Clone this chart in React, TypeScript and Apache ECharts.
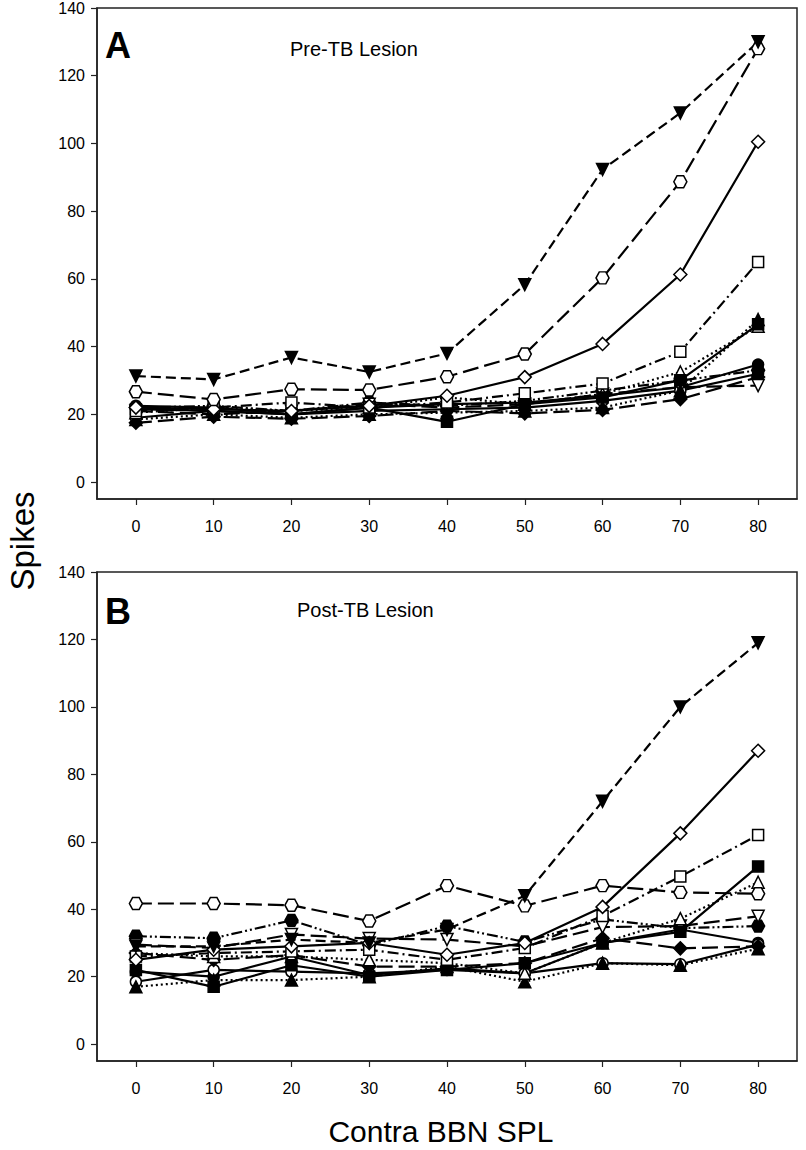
import React, { useEffect, useRef } from "react";
import * as echarts from "echarts";

// ---------- data ----------
const xLevels = [0, 10, 20, 30, 40, 50, 60, 70, 80];
const xTickValues = [0, 10, 20, 30, 40, 50, 60, 70, 80];
const yTickValues = [0, 20, 40, 60, 80, 100, 120, 140];

// Panel A: Pre-TB Lesion
const preFilledDownTri = [31.3, 30.3, 36.8, 32.5, 38, 58.3, 92.3, 109, 130];
const preOpenHex = [26.7, 24.4, 27.4, 27.2, 31.1, 37.8, 60.3, 88.7, 128];
const preOpenDiamond = [22, 21.5, 21, 22.5, 25.5, 31, 40.8, 61.3, 100.5];
const preOpenSquare = [21, 22, 23.5, 22, 23.5, 26.2, 29.1, 38.5, 65];
const preFilledSquare = [21.5, 21, 20, 22, 17.8, 23, 25, 30.1, 46.6];
const preOpenUpTri = [20.5, 22, 21, 22, 25, 23, 26, 32.5, 46];
const preFilledUpTri = [18.5, 20, 19, 20, 20.5, 21, 22, 27, 48];
const preOpenDownTri = [21, 20, 21, 23, 22, 23, 26, 28, 28.5];
const preFilledHex = [22, 22.5, 21, 23.5, 22.5, 24, 27, 30, 33];
const preFilledDiamond = [17.5, 19.3, 18.7, 19.5, 21, 20.3, 21.3, 24.5, 31];
const preOpenCircle = [19, 21, 20, 21, 21.5, 22, 24, 27, 32];
const preFilledCircle = [22.5, 22, 20, 22, 23, 23.5, 25.5, 28, 34.7];

// Panel B: Post-TB Lesion
const postFilledDownTri = [29, 29, 31, 30, 34, 44, 72, 100, 119];
const postOpenHex = [41.7, 41.7, 41.2, 36.5, 47, 41, 47, 45, 44.6];
const postOpenDiamond = [25, 28, 29, 30, 26.5, 30, 40.7, 62.5, 87];
const postOpenSquare = [26, 27, 27.5, 28, 25, 28.5, 38, 49.7, 62];
const postFilledSquare = [22, 17, 23.4, 20, 22, 24, 30, 33.3, 52.7];
const postOpenUpTri = [27, 26, 26, 25, 24, 21, 30, 37.2, 48];
const postFilledUpTri = [17, 19, 19, 20, 23, 18.5, 24, 23.4, 28.3];
const postOpenDownTri = [29.5, 28.5, 32.5, 31.3, 31, 29, 34.7, 35, 37.9];
const postFilledHex = [32, 31.4, 36.7, 29.4, 35, 30.3, 37, 34.4, 35];
const postFilledDiamond = [27, 25, 26.4, 23, 23, 24, 31.4, 28.4, 29];
const postOpenCircle = [18.5, 22, 21.5, 21, 22, 21, 24, 23.7, 29.5];
const postFilledCircle = [21.5, 20, 26, 20.5, 22.5, 21, 30, 34, 30];

// ---------- styles ----------
const HEX = "path://M-1,0 L-0.5,-0.866 L0.5,-0.866 L1,0 L0.5,0.866 L-0.5,0.866 Z";
const SOLID: any = "solid";
const LONG = [16, 6];
const MED = [10, 5];
const DOT = [2, 3];
const DASHDOT = [11, 4, 2, 4];
const DASHDOTDOT = [11, 3, 2, 3, 2, 3];

type Sty = { symbol: string; size: number | number[]; rotate?: number; open: boolean; dash: any };
const styles: Record<string, Sty> = {
  filledDownTri: { symbol: "triangle", size: 12, rotate: 180, open: false, dash: MED },
  openHex: { symbol: HEX, size: [13, 12], open: true, dash: LONG },
  openDiamond: { symbol: "diamond", size: 13, open: true, dash: SOLID },
  openSquare: { symbol: "rect", size: 11, open: true, dash: DASHDOT },
  filledSquare: { symbol: "rect", size: 11, open: false, dash: SOLID },
  openUpTri: { symbol: "triangle", size: 12, open: true, dash: DOT },
  filledUpTri: { symbol: "triangle", size: 12, open: false, dash: DOT },
  openDownTri: { symbol: "triangle", size: 12, rotate: 180, open: true, dash: LONG },
  filledHex: { symbol: HEX, size: [13, 12], open: false, dash: DASHDOTDOT },
  filledDiamond: { symbol: "diamond", size: 13, open: false, dash: LONG },
  openCircle: { symbol: "circle", size: 11, open: true, dash: SOLID },
  filledCircle: { symbol: "circle", size: 11, open: false, dash: SOLID },
};

const preSets: [string, number[]][] = [
  ["filledCircle", preFilledCircle],
  ["openCircle", preOpenCircle],
  ["filledDiamond", preFilledDiamond],
  ["filledHex", preFilledHex],
  ["openDownTri", preOpenDownTri],
  ["filledUpTri", preFilledUpTri],
  ["openUpTri", preOpenUpTri],
  ["filledSquare", preFilledSquare],
  ["openSquare", preOpenSquare],
  ["openDiamond", preOpenDiamond],
  ["openHex", preOpenHex],
  ["filledDownTri", preFilledDownTri],
];
const postSets: [string, number[]][] = [
  ["filledCircle", postFilledCircle],
  ["openCircle", postOpenCircle],
  ["filledDiamond", postFilledDiamond],
  ["filledHex", postFilledHex],
  ["openDownTri", postOpenDownTri],
  ["filledUpTri", postFilledUpTri],
  ["openUpTri", postOpenUpTri],
  ["filledSquare", postFilledSquare],
  ["openSquare", postOpenSquare],
  ["openDiamond", postOpenDiamond],
  ["openHex", postOpenHex],
  ["filledDownTri", postFilledDownTri],
];

const NARROW = "'Liberation Sans Narrow', 'Arial Narrow', 'Liberation Sans', Arial, sans-serif";
const SANS = "'Liberation Sans', Arial, Helvetica, sans-serif";

function makeSeries(sets: [string, number[]][], idx: number) {
  return sets.map(([key, vals]) => {
    const s = styles[key];
    return {
      type: "line",
      name: key + (idx === 0 ? "-pre" : "-post"),
      xAxisIndex: idx,
      yAxisIndex: idx,
      data: xLevels.map((x, i) => [x, vals[i]]),
      symbol: s.symbol,
      symbolSize: s.size,
      symbolRotate: s.rotate || 0,
      showAllSymbol: true,
      lineStyle: { color: "#000", width: 2.2, type: s.dash },
      itemStyle: {
        color: s.open ? "#fff" : "#000",
        borderColor: "#000",
        borderWidth: 1.5,
        opacity: 1,
      },
      emphasis: { disabled: true },
      z: 2,
    };
  });
}

function xAxisCfg(gridIndex: number) {
  return {
    type: "value",
    gridIndex,
    min: -5,
    max: 85,
    axisLine: { show: true, onZero: false, lineStyle: { color: "#222", width: 1.5 } },
    axisTick: { show: true, length: 6, customValues: xTickValues, lineStyle: { color: "#222", width: 1.2 } },
    axisLabel: { customValues: xTickValues, fontSize: 16, color: "#000", margin: 19, fontFamily: NARROW },
    splitLine: { show: false },
  };
}
function yAxisCfg(gridIndex: number) {
  return {
    type: "value",
    gridIndex,
    min: -5,
    max: 140,
    axisLine: { show: true, onZero: false, lineStyle: { color: "#222", width: 1.5 } },
    axisTick: { show: true, length: 6, customValues: yTickValues, lineStyle: { color: "#222", width: 1.2 } },
    axisLabel: { customValues: yTickValues, fontSize: 16, color: "#000", margin: 12, fontFamily: NARROW },
    splitLine: { show: false },
  };
}

export default function App() {
  const ref = useRef<HTMLDivElement>(null);
  useEffect(() => {
    if (!ref.current) return;
    const chart = echarts.init(ref.current, null, { renderer: "svg" });
    chart.setOption({
      animation: false,
      backgroundColor: "#fff",
      grid: [
        { left: 97, top: 8, width: 700, height: 491, show: true, borderColor: "#222", borderWidth: 1.5, backgroundColor: "transparent" },
        { left: 97, top: 572, width: 700, height: 489, show: true, borderColor: "#222", borderWidth: 1.5, backgroundColor: "transparent" },
      ],
      xAxis: [xAxisCfg(0), xAxisCfg(1)],
      yAxis: [yAxisCfg(0), yAxisCfg(1)],
      series: [...makeSeries(preSets, 0), ...makeSeries(postSets, 1)],
      graphic: [
        { type: "text", left: 105, top: 27, style: { text: "A", font: "bold 36px " + SANS, fill: "#000" } },
        { type: "text", left: 290, top: 39, style: { text: "Pre-TB Lesion", font: "20px " + SANS, fill: "#000" } },
        { type: "text", left: 105, top: 593, style: { text: "B", font: "bold 36px " + SANS, fill: "#000" } },
        { type: "text", left: 297, top: 600, style: { text: "Post-TB Lesion", font: "20px " + SANS, fill: "#000" } },
        {
          type: "text",
          x: 22,
          y: 541,
          rotation: Math.PI / 2,
          style: { text: "Spikes", font: "33px " + SANS, fill: "#000", align: "center", verticalAlign: "middle" },
        },
        {
          type: "text",
          x: 441,
          y: 1131,
          style: { text: "Contra BBN SPL", font: "30px " + SANS, fill: "#000", align: "center", verticalAlign: "middle" },
        },
      ],
    });
    return () => chart.dispose();
  }, []);
  return <div ref={ref} style={{ position: "absolute", left: 0, top: 0, width: 806, height: 1150 }} />;
}
